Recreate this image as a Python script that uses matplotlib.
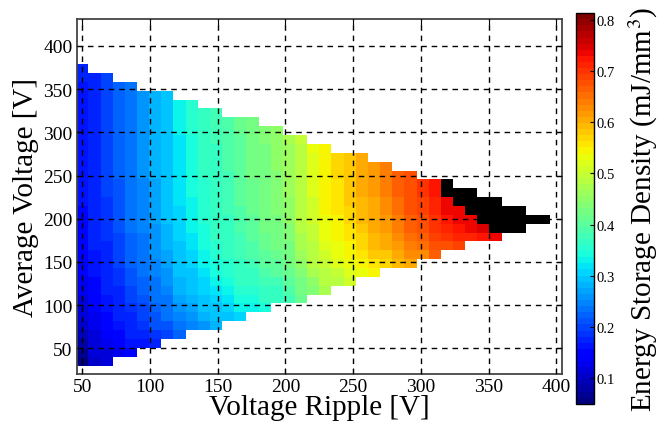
import numpy as np
import matplotlib
matplotlib.use("Agg")
import matplotlib.pyplot as plt
from matplotlib.colors import ListedColormap

plt.rcParams.update({
    "font.family": "Liberation Serif",
    "mathtext.fontset": "stix",
})

# ── Data ──────────────────────────────────────────────────────────────────────

# cell centres
RIPPLE = [50.0, 59.0, 67.9, 76.9, 85.9, 94.9, 103.8, 112.8, 121.8, 130.8,
          139.7, 148.7, 157.7, 166.7, 175.6, 184.6, 193.6, 202.6, 211.5, 220.5,
          229.5, 238.5, 247.4, 256.4, 265.4, 274.4, 283.3, 292.3, 301.3, 310.3,
          319.2, 328.2, 337.2, 346.2, 355.1, 364.1, 373.1, 382.1, 391.0, 400.0]
AVG_V = [25.0, 35.3, 45.5, 55.8, 66.0, 76.3, 86.5, 96.8, 107.1, 117.3,
         127.6, 137.8, 148.1, 158.3, 168.6, 178.8, 189.1, 199.4, 209.6, 219.9,
         230.1, 240.4, 250.6, 260.9, 271.2, 281.4, 291.7, 301.9, 312.2, 322.4,
         332.7, 342.9, 353.2, 363.5, 373.7, 384.0, 394.2, 404.5, 414.7, 425.0]

# first filled row of every ripple column, and its densities going upward (mJ/mm^3)
COL_START = [1, 1, 1, 2, 2, 3, 3, 4, 4, 5, 5, 5, 6, 6, 7, 7, 8, 8, 8, 9,
             9, 10, 10, 11, 11, 12, 12, 12, 13, 13, 14, 14, 15, 15, 15]
COL_DENSITY = [
    [.06, .07, .08, .09, .10, .11, .12, .12, .13, .13, .14, .14, .14, .15, .15, .15, .15,
     .15, .16, .16, .16, .16, .16, .16, .16, .16, .16, .16, .16, .16, .16, .16, .17, .17],
    [.10, .11, .11, .12, .13, .13, .14, .15, .15, .15, .16, .16, .16, .17, .17, .17, .17,
     .17, .17, .17, .18, .18, .18, .18, .18, .18, .18, .18, .18, .18, .18, .18, .18],
    [.11, .12, .13, .14, .15, .15, .16, .16, .17, .17, .18, .18, .18, .18, .19, .19, .19,
     .19, .19, .20, .20, .20, .20, .20, .20, .20, .20, .20, .20, .20, .20, .20, .20],
    [.13, .14, .15, .16, .17, .17, .18, .18, .19, .19, .20, .20, .20, .20, .21, .21,
     .21, .21, .21, .21, .22, .22, .22, .22, .22, .22, .22, .22, .22, .22, .22],
    [.15, .16, .17, .18, .18, .19, .20, .20, .21, .21, .22, .22, .22, .22, .23, .23,
     .23, .23, .23, .24, .24, .24, .24, .24, .24, .24, .24, .24, .24, .24, .24],
    [.16, .18, .19, .20, .20, .21, .22, .22, .23, .23, .24, .24, .24, .25, .25,
     .25, .25, .25, .25, .26, .26, .26, .26, .26, .26, .26, .26, .26, .26],
    [.18, .19, .21, .21, .22, .23, .24, .24, .25, .25, .26, .26, .26, .26, .27,
     .27, .27, .27, .27, .28, .28, .28, .28, .28, .28, .28, .28, .28, .28],
    [.20, .21, .23, .23, .24, .25, .26, .26, .27, .27, .28, .28, .28, .29,
     .29, .29, .29, .29, .30, .30, .30, .30, .30, .30, .30, .30, .30, .30],
    [.22, .24, .25, .26, .27, .28, .28, .29, .29, .30, .30, .31, .31, .31,
     .31, .32, .32, .32, .32, .32, .32, .32, .32, .33, .33, .33, .33],
    [.25, .26, .27, .28, .29, .30, .30, .31, .31, .32, .32, .33, .33,
     .33, .33, .34, .34, .34, .34, .34, .34, .34, .35, .35, .35, .35],
    [.26, .28, .29, .30, .31, .31, .32, .33, .33, .34, .34, .34, .35,
     .35, .35, .35, .35, .36, .36, .36, .36, .36, .36, .36, .36],
    [.28, .29, .30, .31, .32, .33, .34, .34, .35, .35, .36, .36, .36,
     .36, .37, .37, .37, .37, .37, .37, .37, .38, .38, .38, .38],
    [.30, .31, .32, .33, .34, .35, .35, .36, .36, .37, .37, .37,
     .38, .38, .38, .38, .38, .39, .39, .39, .39, .39, .39],
    [.31, .33, .34, .35, .36, .36, .37, .38, .38, .38, .39, .39,
     .39, .40, .40, .40, .40, .40, .40, .40, .40, .41, .41],
    [.33, .34, .35, .36, .37, .38, .39, .39, .40, .40, .40,
     .41, .41, .41, .41, .42, .42, .42, .42, .42, .42, .42],
    [.34, .36, .37, .38, .39, .40, .40, .41, .41, .42, .42,
     .42, .42, .43, .43, .43, .43, .43, .43, .44, .44],
    [.36, .37, .38, .40, .40, .41, .42, .42, .43, .43,
     .44, .44, .44, .44, .44, .45, .45, .45, .45, .45],
    [.38, .39, .40, .41, .42, .43, .43, .44, .44, .45,
     .45, .45, .46, .46, .46, .46, .46, .46, .47],
    [.41, .42, .43, .44, .45, .46, .47, .47, .48, .48,
     .48, .49, .49, .49, .49, .49, .49, .49, .50],
    [.44, .45, .47, .48, .48, .49, .50, .50, .51,
     .51, .51, .52, .52, .52, .52, .52, .53],
    [.47, .48, .49, .50, .51, .52, .53, .53, .53,
     .54, .54, .54, .54, .55, .55, .55, .55],
    [.49, .50, .52, .53, .53, .54, .55, .55,
     .56, .56, .56, .56, .57, .57, .57],
    [.51, .52, .53, .54, .55, .56, .56, .57,
     .57, .58, .58, .58, .58, .58, .58],
    [.53, .54, .56, .57, .57, .58, .59,
     .59, .59, .60, .60, .60, .60, .60],
    [.55, .56, .58, .59, .59, .60, .61,
     .61, .61, .62, .62, .62, .62],
    [.57, .58, .60, .61, .62, .62,
     .63, .63, .64, .64, .64, .64],
    [.59, .61, .62, .63, .64, .64,
     .65, .65, .66, .66, .66],
    [.61, .63, .64, .65, .66, .66,
     .67, .67, .68, .68, .68],
    [.63, .65, .66, .67, .68, .69, .69, .70, .70],
    [.66, .68, .69, .70, .70, .71, .71, .72, .72],
    [.68, .70, .71, .72, .73, .73],
    [.69, .71, .72, .73, .74],
    [.71, .73, .74],
    [.72, .75],
    [.73],
]

# black cells (first and last row) for the ripple columns 30..38
BLACK_COLS = [30, 31, 32, 33, 34, 35, 36, 37, 38]
BLACK_FROM = [20, 19, 18, 17, 16, 16, 16, 17, 17]
BLACK_TO = [21, 20, 20, 19, 19, 18, 18, 17, 17]

X_TICKS = [50, 100, 150, 200, 250, 300, 350, 400]
Y_TICKS = [50, 100, 150, 200, 250, 300, 350, 400]
CB_TICKS = [0.1, 0.2, 0.3, 0.4, 0.5, 0.6, 0.7, 0.8]
VMIN, VMAX = 0.05, 0.813

# ── Grids ─────────────────────────────────────────────────────────────────────

nx, ny = len(RIPPLE), len(AVG_V)
Z = np.full((ny, nx), np.nan)
for i, (start, vals) in enumerate(zip(COL_START, COL_DENSITY)):
    Z[start:start + len(vals), i] = vals
B = np.full((ny, nx), np.nan)
for c, lo, hi in zip(BLACK_COLS, BLACK_FROM, BLACK_TO):
    B[lo:hi + 1, c] = 1.0

# ── Figure ────────────────────────────────────────────────────────────────────

fig = plt.figure(figsize=(6.65, 4.27), dpi=100)
ax = fig.add_axes([0.1155, 0.122, 0.7295, 0.830])
cax = fig.add_axes([0.8665, 0.052, 0.027, 0.915])

mesh = ax.pcolormesh(RIPPLE, AVG_V, np.ma.masked_invalid(Z), shading="nearest",
                     cmap=plt.get_cmap("jet", 64), vmin=VMIN, vmax=VMAX)
ax.pcolormesh(RIPPLE, AVG_V, np.ma.masked_invalid(B), shading="nearest",
              cmap=ListedColormap(["black"]))

ax.set_xlim(45.9, 404.2)
ax.set_ylim(20.5, 430.5)
ax.set_xticks(X_TICKS)
ax.set_yticks(Y_TICKS)
ax.grid(True, color="black", ls=(0, (4, 3.5)), lw=1.0)
ax.set_axisbelow(False)
ax.tick_params(direction="in", top=True, right=True, length=4, labelsize=14,
               pad=3)
for s in ax.spines.values():
    s.set_linewidth(1.3)
    s.set_color("#444444")

ax.set_xlabel("Voltage Ripple [V]", fontsize=21, labelpad=-1)
ax.set_ylabel("Average Voltage [V]", fontsize=21, labelpad=3)

cb = fig.colorbar(mesh, cax=cax, ticks=CB_TICKS)
cb.ax.tick_params(labelsize=10.5, direction="in", length=3, pad=2)
cb.outline.set_linewidth(1.0)
cb.set_label("Energy Storage Density (mJ/mm$^3$)", fontsize=21, labelpad=8)

fig.savefig("out.png", dpi=100)
